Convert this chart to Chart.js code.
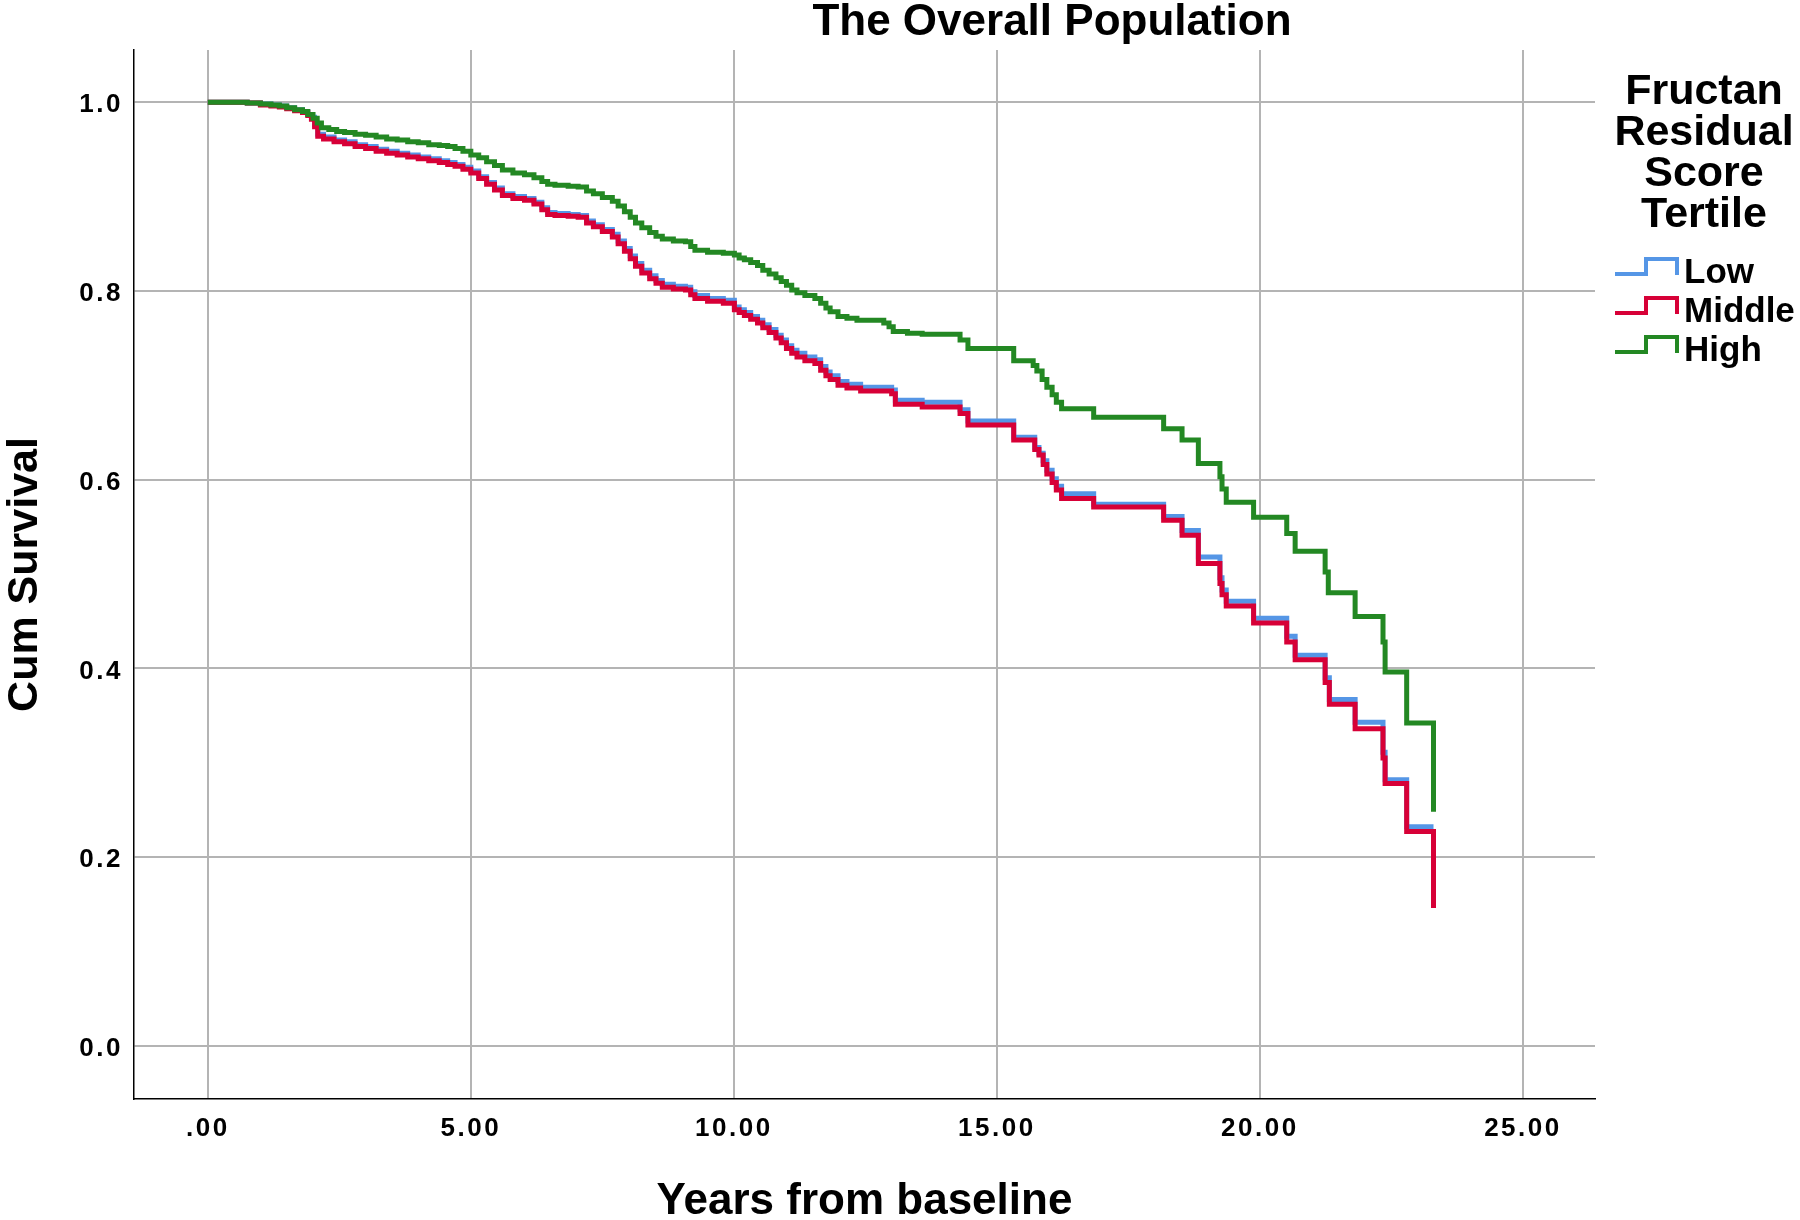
<!DOCTYPE html>
<html>
<head>
<meta charset="utf-8">
<script src="https://cdn.jsdelivr.net/npm/chart.js@4.4.1/dist/chart.umd.min.js"></script>
<style>
  html, body { margin: 0; padding: 0; background: #ffffff; }
  #wrap { width: 1800px; height: 1220px; position: relative; }
</style>
</head>
<body>
<div id="wrap"><canvas id="c" width="1800" height="1220"></canvas></div>
<script>
// ---------------- DATA ----------------
const chartTitle = 'The Overall Population';
const xAxisTitle = 'Years from baseline';
const yAxisTitle = 'Cum Survival';
const legendTitle = ['Fructan', 'Residual', 'Score', 'Tertile'];
const seriesLabels = ['Low', 'Middle', 'High'];

const xTickValues = [0, 5, 10, 15, 20, 25];
const xTickLabels = ['.00', '5.00', '10.00', '15.00', '20.00', '25.00'];
const yTickValues = [0, 0.2, 0.4, 0.6, 0.8, 1.0];
const yTickLabels = ['0.0', '0.2', '0.4', '0.6', '0.8', '1.0'];

// event times shared by Low and Middle curves (years)
const lowMidTimes = [0,0.45,0.75,1.0,1.2,1.36,1.5,1.65,1.8,1.9,1.97,2.03,2.09,2.2,2.4,2.6,2.8,3.0,3.2,3.4,3.6,3.8,4.0,4.2,4.4,4.56,4.7,4.85,5.0,5.15,5.3,5.45,5.6,5.8,6.02,6.2,6.35,6.46,6.6,6.85,7.04,7.2,7.33,7.5,7.69,7.8,7.92,8.03,8.13,8.25,8.4,8.52,8.64,8.85,9.08,9.18,9.26,9.5,9.8,10.01,10.1,10.2,10.32,10.45,10.55,10.67,10.8,10.9,11.0,11.1,11.2,11.35,11.54,11.65,11.75,11.83,11.98,12.15,12.41,13.0,13.07,13.58,14.30,14.45,15.32,15.72,15.80,15.88,15.95,16.05,16.13,16.23,16.84,18.17,18.52,18.83,19.24,19.28,19.36,19.88,20.51,20.67,21.24,21.32,21.81,22.34,22.38,22.79,23.30];

const lowSurv = [1.000,1.000,0.999,0.998,0.997,0.996,0.994,0.992,0.990,0.987,0.984,0.976,0.966,0.963,0.960,0.958,0.955,0.953,0.950,0.948,0.946,0.944,0.942,0.940,0.938,0.936,0.934,0.931,0.927,0.921,0.915,0.909,0.903,0.900,0.898,0.894,0.888,0.883,0.882,0.881,0.880,0.874,0.870,0.865,0.860,0.853,0.845,0.837,0.829,0.822,0.816,0.811,0.807,0.805,0.804,0.799,0.795,0.792,0.790,0.783,0.780,0.777,0.773,0.769,0.764,0.759,0.753,0.748,0.742,0.737,0.734,0.730,0.727,0.720,0.714,0.710,0.704,0.701,0.698,0.695,0.684,0.682,0.674,0.662,0.645,0.634,0.628,0.620,0.610,0.601,0.593,0.585,0.574,0.561,0.546,0.518,0.496,0.483,0.471,0.453,0.434,0.414,0.390,0.367,0.343,0.311,0.282,0.232,0.232];

const midSurv = [1.000,1.000,0.999,0.997,0.996,0.995,0.993,0.991,0.989,0.986,0.982,0.974,0.964,0.961,0.958,0.956,0.953,0.951,0.948,0.946,0.944,0.942,0.940,0.938,0.936,0.934,0.932,0.929,0.925,0.919,0.913,0.907,0.901,0.898,0.896,0.892,0.886,0.881,0.880,0.879,0.878,0.872,0.868,0.863,0.857,0.850,0.842,0.834,0.826,0.819,0.813,0.808,0.804,0.802,0.801,0.796,0.792,0.789,0.787,0.780,0.777,0.774,0.770,0.766,0.761,0.756,0.750,0.745,0.739,0.734,0.730,0.726,0.723,0.716,0.710,0.706,0.700,0.697,0.694,0.691,0.680,0.677,0.670,0.658,0.642,0.632,0.626,0.616,0.606,0.597,0.589,0.580,0.571,0.557,0.541,0.511,0.490,0.478,0.466,0.448,0.428,0.409,0.385,0.362,0.336,0.305,0.278,0.227,0.146];

const highTimes = [0,0.45,0.75,1.0,1.2,1.36,1.5,1.65,1.8,1.9,2.0,2.08,2.16,2.3,2.45,2.6,2.8,3.0,3.2,3.4,3.6,3.8,4.0,4.2,4.4,4.56,4.7,4.85,5.0,5.15,5.3,5.45,5.6,5.8,6.02,6.2,6.35,6.46,6.6,6.85,7.04,7.2,7.33,7.5,7.69,7.8,7.92,8.03,8.13,8.25,8.4,8.52,8.64,8.85,9.08,9.18,9.26,9.5,9.8,10.01,10.1,10.2,10.32,10.45,10.55,10.67,10.8,10.9,11.0,11.1,11.2,11.35,11.54,11.65,11.75,11.83,11.98,12.15,12.34,12.85,12.95,13.03,13.3,13.58,14.30,14.45,15.32,15.69,15.76,15.86,15.95,16.05,16.13,16.23,16.84,18.17,18.52,18.83,19.24,19.28,19.36,19.88,20.51,20.67,21.24,21.30,21.81,22.34,22.38,22.79,23.30];

const highSurv = [1.000,1.000,0.999,0.998,0.997,0.996,0.994,0.992,0.990,0.987,0.983,0.978,0.973,0.971,0.969,0.968,0.966,0.965,0.963,0.961,0.960,0.958,0.957,0.955,0.954,0.953,0.951,0.948,0.944,0.941,0.937,0.933,0.928,0.925,0.923,0.920,0.916,0.913,0.912,0.911,0.910,0.906,0.903,0.899,0.895,0.890,0.884,0.878,0.872,0.867,0.862,0.858,0.855,0.853,0.852,0.847,0.843,0.841,0.840,0.838,0.835,0.833,0.830,0.827,0.822,0.818,0.814,0.810,0.806,0.801,0.798,0.795,0.792,0.787,0.782,0.778,0.773,0.771,0.769,0.766,0.762,0.757,0.755,0.754,0.748,0.739,0.726,0.721,0.715,0.706,0.698,0.690,0.682,0.675,0.666,0.654,0.642,0.617,0.603,0.590,0.576,0.560,0.543,0.524,0.502,0.480,0.455,0.428,0.396,0.342,0.248];

const seriesColors = ['#5596E6', '#D70037', '#238823'];

// ---------------- RENDERING ----------------
const FONT = "'Liberation Sans', Arial, Helvetica, sans-serif";
Chart.defaults.font.family = FONT;
Chart.defaults.color = '#000000';

// letter spacing for tick labels (SPSS look)
if (Chart.Scale) {
  const SP = Chart.Scale.prototype;
  const oDL = SP.drawLabels;
  SP.drawLabels = function (a) {
    const c = this.ctx; const p = c.letterSpacing;
    c.letterSpacing = '2.5px'; oDL.call(this, a); c.letterSpacing = p || '0px';
  };
}

function pts(t, v) { return t.map((x, i) => ({ x: x, y: v[i] })); }

const TITLE_CX = 1052;

const layoutPlugin = {
  id: 'layoutTweaks',
  afterLayout(chart) {
    const t = chart.titleBlock;
    if (t) {
      const w = t.right - t.left;
      t.left = TITLE_CX - w / 2;
      t.right = TITLE_CX + w / 2;
    }
  }
};

const stepLegendPlugin = {
  id: 'stepLegend',
  afterDraw(chart) {
    const ctx = chart.ctx;
    ctx.save();
    ctx.fillStyle = '#000';
    ctx.textAlign = 'center';
    ctx.textBaseline = 'alphabetic';
    ctx.font = 'bold 43px ' + FONT;
    const titleBase = [104, 145, 185.5, 226.5];
    legendTitle.forEach((line, i) => ctx.fillText(line, 1704, titleBase[i]));
    ctx.textAlign = 'left';
    ctx.font = 'bold 35px ' + FONT;
    const entryBase = [283, 322, 361];
    chart.data.datasets.forEach((ds, i) => {
      const b = entryBase[i];
      ctx.strokeStyle = ds.borderColor;
      ctx.lineWidth = 4;
      ctx.lineJoin = 'miter';
      ctx.lineCap = 'butt';
      ctx.beginPath();
      ctx.moveTo(1615, b - 9);
      ctx.lineTo(1646, b - 9);
      ctx.lineTo(1646, b - 24);
      ctx.lineTo(1677, b - 24);
      ctx.lineTo(1677, b - 8);
      ctx.stroke();
      ctx.fillText(ds.label, 1684, b);
    });
    ctx.restore();
  }
};

const ctx = document.getElementById('c').getContext('2d');
new Chart(ctx, {
  type: 'line',
  data: {
    datasets: [
      { label: seriesLabels[0], data: pts(lowMidTimes, lowSurv), borderColor: seriesColors[0], order: 2 },
      { label: seriesLabels[1], data: pts(lowMidTimes, midSurv), borderColor: seriesColors[1], order: 1 },
      { label: seriesLabels[2], data: pts(highTimes, highSurv), borderColor: seriesColors[2], order: 0 }
    ]
  },
  options: {
    responsive: false,
    animation: false,
    devicePixelRatio: 1,
    layout: { padding: { left: 0, top: 0, right: 205, bottom: 0 } },
    elements: {
      line: { borderWidth: 5, stepped: 'before', tension: 0, fill: false, borderJoinStyle: 'miter', borderCapStyle: 'butt' },
      point: { radius: 0, hoverRadius: 0 }
    },
    plugins: {
      legend: { display: false },
      tooltip: { enabled: false },
      title: {
        display: true,
        text: chartTitle,
        color: '#000',
        font: { size: 44, weight: 'bold', lineHeight: 1.0 },
        padding: { top: 1, bottom: 5 }
      }
    },
    scales: {
      x: {
        type: 'linear',
        min: -1.403,
        max: 26.37,
        afterBuildTicks: (s) => { s.ticks = xTickValues.map(v => ({ value: v })); },
        afterFit: (s) => { s.height = 121; },
        ticks: {
          autoSkip: false, maxRotation: 0, minRotation: 0,
          padding: 14,
          color: '#000',
          font: { size: 26, weight: 'bold' },
          callback: (v) => { const i = xTickValues.indexOf(v); return i >= 0 ? xTickLabels[i] : ''; }
        },
        grid: { color: '#b4b4b4', lineWidth: 2, drawTicks: false },
        border: { display: true, color: '#000', width: 1.5 },
        title: {
          display: true, text: xAxisTitle, color: '#000',
          font: { size: 44, weight: 'bold', lineHeight: 0.82 },
          padding: { top: 0, bottom: 0 }
        }
      },
      y: {
        type: 'linear',
        min: -0.0564,
        max: 1.0553,
        afterBuildTicks: (s) => { s.ticks = yTickValues.map(v => ({ value: v })); },
        afterFit: (s) => { s.width = 134; },
        ticks: {
          autoSkip: false,
          padding: 11,
          labelOffset: 3,
          color: '#000',
          font: { size: 26, weight: 'bold' },
          callback: (v) => { const i = yTickValues.indexOf(v); return i >= 0 ? yTickLabels[i] : ''; }
        },
        grid: { color: '#b4b4b4', lineWidth: 2, drawTicks: false },
        border: { display: true, color: '#000', width: 1.5 },
        title: {
          display: true, text: yAxisTitle, color: '#000',
          font: { size: 43, weight: 'bold', lineHeight: 1.0 },
          padding: { top: 3.5, bottom: 0 }
        }
      }
    }
  },
  plugins: [layoutPlugin, stepLegendPlugin]
});
</script>
</body>
</html>
